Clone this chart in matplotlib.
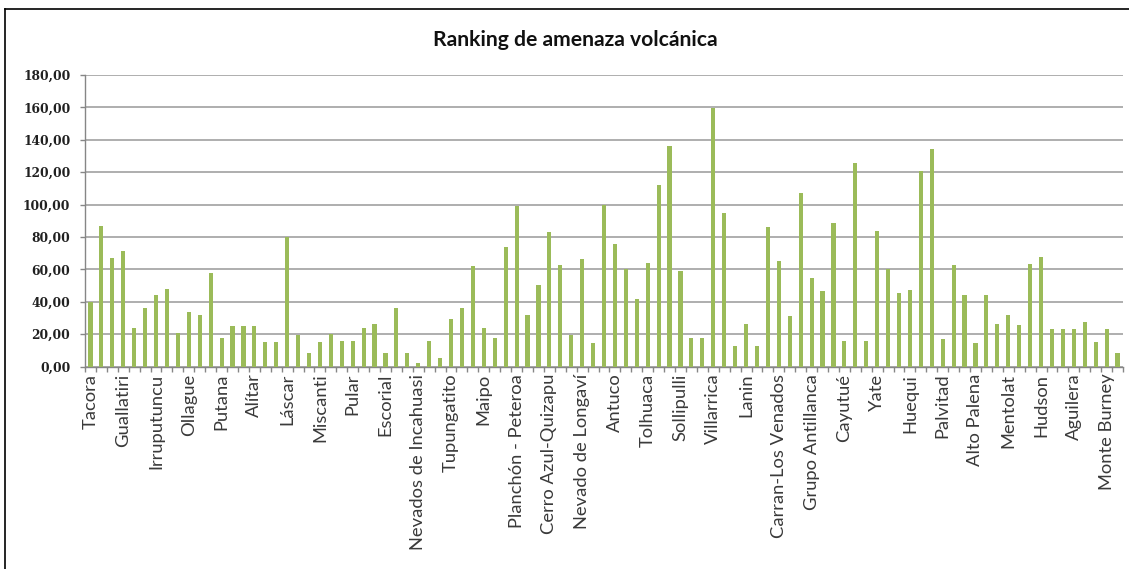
import numpy as np
import matplotlib
matplotlib.use("Agg")
import matplotlib.pyplot as plt
from matplotlib.lines import Line2D
from matplotlib.ticker import FuncFormatter

# volcano threat score, north to south
scores = [40, 87, 67, 71.5, 24, 36, 44, 48, 21, 34,
          32, 58, 18, 25, 25, 25, 15, 15, 80, 19.5,
          8.5, 15, 20, 16, 16, 24, 26.5, 8.5, 36, 8.5,
          2.5, 16, 5.5, 29.5, 36, 62, 24, 17.5, 74, 99,
          32, 50.5, 83, 63, 19.5, 66.5, 14.5, 100, 76, 60,
          42, 64, 112, 136, 59, 18, 18, 159.5, 95, 13,
          26.5, 13, 86.5, 65, 31, 107, 55, 46.5, 88.5, 16,
          125.5, 16, 84, 60, 45.5, 47.5, 120.5, 134.5, 17, 63,
          44.5, 14.5, 44.5, 26.5, 32, 25.5, 63.5, 67.5, 23.5, 23.5,
          23.5, 27.5, 15.5, 23.5, 8.5]

# only every third volcano is labelled on the axis
labels = ["Tacora", "Guallatiri", "Irruputuncu", "Ollague", "Putana",
          "Alítar", "Láscar", "Miscanti", "Pular", "Escorial",
          "Nevados de Incahuasi", "Tupungatito", "Maipo",
          "Planchón - Peteroa", "Cerro Azul-Quizapu", "Nevado de Longaví",
          "Antuco", "Tolhuaca", "Sollipulli", "Villarrica", "Lanin",
          "Carran-Los Venados", "Grupo Antillanca", "Cayutué", "Yate",
          "Huequi", "Palvitad", "Alto Palena", "Mentolat", "Hudson",
          "Aguilera", "Monte Burney"]

yticks = np.arange(0, 181, 20)

fig = plt.figure(figsize=(11.29, 5.69), dpi=100)
ax = fig.add_axes([85 / 1129, 1 - 366.7 / 569, 1038 / 1129, 291.7 / 569])

x = np.arange(len(scores))
ax.bar(x, scores, width=0.38, color="#9BBB59", zorder=3)

ax.set_xlim(-0.5, len(scores) - 0.5)
ax.set_ylim(0, 180)
ax.set_yticks(yticks)
ax.yaxis.set_major_formatter(FuncFormatter(lambda v, p: f"{v:.2f}".replace(".", ",")))
ax.grid(axis="y", color="#999999", linewidth=1.1, zorder=0)

ax.set_xticks(x[::3])
ax.set_xticklabels(labels, rotation=90, family="Lato", fontsize=13.2, color="#3a3a3a")
ax.set_xticks(np.arange(len(scores) + 1) - 0.5, minor=True)
ax.tick_params(axis="x", which="major", length=0, pad=5)
ax.tick_params(axis="x", which="minor", length=3.6, color="#868686", width=1)
ax.tick_params(axis="y", length=3.6, color="#868686", width=1, pad=7)
for t in ax.get_yticklabels():
    t.set_family("DejaVu Serif")
    t.set_fontsize(8.8)
    t.set_fontweight("bold")
    t.set_color("#202020")

for side in ("top", "right"):
    ax.spines[side].set_visible(False)
for side in ("left", "bottom"):
    ax.spines[side].set_color("#868686")
    ax.spines[side].set_linewidth(1)

fig.text(575 / 1129, 1 - 40 / 569, "Ranking de amenaza volcánica",
         ha="center", va="center", family="Lato", fontweight="bold",
         fontsize=15.2, color="#111111")

# chart frame
fig.add_artist(Line2D([5 / 1129, 1], [1 - 9 / 569] * 2, color="black", linewidth=1.2))
fig.add_artist(Line2D([5 / 1129] * 2, [0, 1 - 9 / 569], color="black", linewidth=1.2))

fig.savefig("out.png", dpi=100)
